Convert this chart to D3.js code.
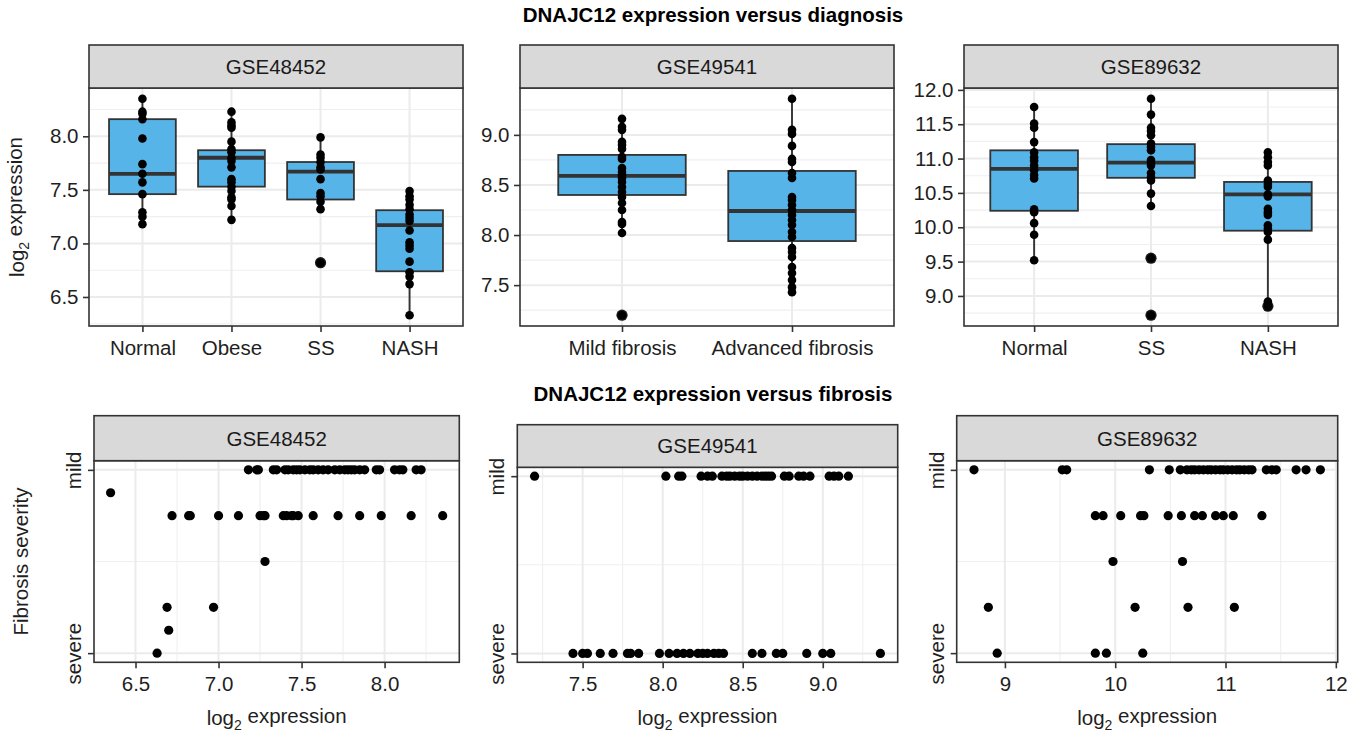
<!DOCTYPE html>
<html>
<head>
<meta charset="utf-8">
<script src="https://cdn.jsdelivr.net/npm/d3@7"></script>
<style>
  body { margin: 0; background: #fff; }
  svg text { font-family: "Liberation Sans", Arial, Helvetica, sans-serif; }
</style>
</head>
<body>
<div id="chart"></div>
<script>
// Data

var datasets = ["GSE48452", "GSE49541", "GSE89632"];

// top row: log2 expression per diagnosis group
var groups48452 = ["Normal", "Obese", "SS", "NASH"];
var expr48452 = [
  [8.35, 8.23, 8.21, 8.16, 7.98, 7.74, 7.65, 7.57, 7.46, 7.29, 7.25, 7.18],
  [8.23, 8.13, 8.10, 8.08, 7.95, 7.88, 7.85, 7.80, 7.77, 7.71, 7.60, 7.57, 7.53, 7.49, 7.43, 7.41, 7.35, 7.22],
  [7.99, 7.83, 7.80, 7.76, 7.71, 7.69, 7.60, 7.47, 7.44, 7.39, 7.32, 6.82],
  [7.49, 7.44, 7.41, 7.36, 7.32, 7.27, 7.24, 7.21, 7.12, 7.01, 6.98, 6.95, 6.83, 6.73, 6.69, 6.62, 6.33]
];
// [lower whisker, q1, median, q3, upper whisker]
var box48452 = [
  [7.18, 7.46, 7.65, 8.16, 8.35],
  [7.22, 7.53, 7.80, 7.87, 8.23],
  [7.32, 7.41, 7.67, 7.76, 7.99],
  [6.33, 6.74, 7.17, 7.31, 7.49]
];
var outliers48452 = [[], [], [6.82], []];

var groups49541 = ["Mild fibrosis", "Advanced fibrosis"];
var expr49541 = [
  [9.16, 9.08, 9.05, 8.93, 8.90, 8.86, 8.78, 8.76, 8.67, 8.63, 8.60, 8.57, 8.53, 8.48, 8.43, 8.38, 8.32, 8.25, 8.13, 8.11, 8.02, 7.20],
  [9.36, 9.05, 9.01, 8.89, 8.76, 8.73, 8.62, 8.57, 8.38, 8.35, 8.30, 8.25, 8.20, 8.15, 8.10, 8.03, 7.98, 7.87, 7.83, 7.78, 7.68, 7.62, 7.55, 7.48, 7.43]
];
var box49541 = [
  [8.02, 8.40, 8.59, 8.80, 9.16],
  [7.43, 7.94, 8.24, 8.64, 9.36]
];
var outliers49541 = [[7.20], []];

var groups89632 = ["Normal", "SS", "NASH"];
var expr89632 = [
  [11.75, 11.51, 11.45, 11.24, 11.09, 11.02, 10.97, 10.90, 10.83, 10.76, 10.71, 10.26, 10.22, 10.06, 9.89, 9.52],
  [11.87, 11.64, 11.45, 11.40, 11.34, 11.22, 11.17, 11.12, 10.98, 10.94, 10.90, 10.79, 10.73, 10.68, 10.49, 10.31, 9.55, 8.72],
  [11.09, 11.02, 10.95, 10.90, 10.68, 10.63, 10.59, 10.48, 10.45, 10.27, 10.22, 10.18, 10.03, 9.98, 9.93, 9.82, 8.92, 8.85]
];
var box89632 = [
  [9.52, 10.24, 10.85, 11.12, 11.75],
  [10.31, 10.72, 10.94, 11.21, 11.87],
  [8.92, 9.95, 10.48, 10.66, 11.09]
];
var outliers89632 = [[], [9.55, 8.72], [8.85]];

// bottom row: fibrosis stage (0 = mild ... max = severe) and expression
var sevLabels = ["mild", "severe"];

var stages48452 = [0, 0.5, 1, 2, 3, 3.5, 4];
var fib48452 = [
  [7.18, 7.23, 7.24, 7.33, 7.35, 7.40, 7.42, 7.45, 7.47, 7.49, 7.52, 7.55, 7.57, 7.60, 7.63, 7.66, 7.70, 7.73, 7.76, 7.78, 7.80, 7.82, 7.85, 7.88, 7.95, 7.97, 8.06, 8.09, 8.11, 8.19, 8.22],
  [6.35],
  [6.72, 6.82, 6.83, 7.00, 7.12, 7.25, 7.27, 7.28, 7.39, 7.41, 7.44, 7.45, 7.48, 7.57, 7.72, 7.85, 7.98, 8.16, 8.35],
  [7.28],
  [6.69, 6.97],
  [6.70],
  [6.63]
];

var stages49541 = [0, 1];
var fib49541 = [
  [7.20, 8.02, 8.10, 8.12, 8.24, 8.28, 8.31, 8.37, 8.40, 8.42, 8.45, 8.48, 8.50, 8.53, 8.56, 8.59, 8.62, 8.64, 8.66, 8.68, 8.76, 8.79, 8.85, 8.88, 8.92, 9.04, 9.07, 9.10, 9.16],
  [7.44, 7.50, 7.53, 7.61, 7.69, 7.78, 7.80, 7.85, 7.98, 8.04, 8.09, 8.13, 8.17, 8.22, 8.25, 8.28, 8.32, 8.35, 8.38, 8.56, 8.62, 8.71, 8.75, 8.90, 9.00, 9.05, 9.36]
];

var stages89632 = [0, 1, 2, 3, 4];
var fib89632 = [
  [8.72, 9.52, 9.56, 10.31, 10.49, 10.59, 10.65, 10.69, 10.72, 10.76, 10.80, 10.84, 10.87, 10.91, 10.95, 10.98, 11.02, 11.06, 11.10, 11.13, 11.17, 11.21, 11.24, 11.37, 11.42, 11.46, 11.64, 11.73, 11.86],
  [9.82, 9.89, 10.05, 10.23, 10.26, 10.48, 10.60, 10.72, 10.79, 10.91, 10.98, 11.07, 11.33],
  [9.98, 10.61],
  [8.85, 10.18, 10.66, 11.08],
  [8.93, 9.82, 9.92, 10.25]
];

// tick values
var ticks48452 = [6.5, 7.0, 7.5, 8.0];
var ticks49541 = [7.5, 8.0, 8.5, 9.0];
var ticks89632y = [9.0, 9.5, 10.0, 10.5, 11.0, 11.5, 12.0];
var ticks89632x = [9, 10, 11, 12];

// Setup

var width = 1365;
var height = 735;
var fontSize = 20.5;
var textCol = "#1f1f1f";
var lineCol = "#333";

var svg = d3
    .select("#chart")
    .append("svg")
    .attr("width", width)
    .attr("height", height);

svg.append("rect").attr("width", width).attr("height", height).attr("fill", "#fff");

// ggplot style 5% expansion
function expand(vals) {
    var ext = d3.extent(vals);
    var pad = (ext[1] - ext[0]) * 0.05;
    return [ext[0] - pad, ext[1] + pad];
}

// minor breaks halfway between majors, inside the domain
function minorBreaks(ticks, domain) {
    var step = ticks[1] - ticks[0];
    var out = [];
    for (var v = ticks[0] - step / 2; v <= domain[1]; v += step) {
        if (v >= domain[0]) out.push(v);
    }
    return out;
}

function styleAxis(g) {
    g.attr("font-size", null).attr("font-family", null);
    g.select(".domain").remove();
    g.selectAll(".tick line").attr("stroke", lineCol).attr("stroke-width", 1.6);
    g.selectAll(".tick text").attr("fill", textCol).style("font-size", fontSize + "px");
}

function strip(x0, x1, top, bottom, label) {
    svg.append("rect")
        .attr("x", x0).attr("y", top)
        .attr("width", x1 - x0).attr("height", bottom - top)
        .attr("fill", "#D9D9D9")
        .attr("stroke", lineCol)
        .attr("stroke-width", 1.6);
    svg.append("text")
        .attr("x", (x0 + x1) / 2)
        .attr("y", (top + bottom) / 2 + fontSize * 0.36)
        .attr("text-anchor", "middle")
        .attr("fill", "#1a1a1a")
        .style("font-size", fontSize + "px")
        .text(label);
}

function logTitle(sel) {
    sel.append("tspan").text("log");
    sel.append("tspan").attr("dy", "0.35em").style("font-size", "14px").text("2");
    sel.append("tspan").attr("dy", "-0.35em").text(" expression");
}

// Top row: boxplots
function boxPanel(p, name, groups, expr, box, outl, yTicks) {
    var all = d3.merge(expr).concat(d3.merge(outl));
    var y = d3.scaleLinear().domain(expand(all)).range([p.y1, p.y0]);
    var x = d3.scalePoint().domain(groups).range([p.x0, p.x1]).padding(0.6);
    var bw = x.step() * 0.75;
    var g = svg.append("g");

    // grid
    g.selectAll(".minor")
        .data(minorBreaks(yTicks, y.domain()))
        .enter().append("line")
        .attr("x1", p.x0).attr("x2", p.x1)
        .attr("y1", d => y(d)).attr("y2", d => y(d))
        .attr("stroke", "#EFEFEF").attr("stroke-width", 1.1);
    g.selectAll(".majorY")
        .data(yTicks)
        .enter().append("line")
        .attr("x1", p.x0).attr("x2", p.x1)
        .attr("y1", d => y(d)).attr("y2", d => y(d))
        .attr("stroke", "#EBEBEB").attr("stroke-width", 2);
    g.selectAll(".majorX")
        .data(groups)
        .enter().append("line")
        .attr("x1", d => x(d)).attr("x2", d => x(d))
        .attr("y1", p.y0).attr("y2", p.y1)
        .attr("stroke", "#EBEBEB").attr("stroke-width", 2);

    groups.forEach(function(grp, i) {
        var cx = x(grp);
        var b = box[i];
        // whiskers
        g.append("line").attr("x1", cx).attr("x2", cx)
            .attr("y1", y(b[0])).attr("y2", y(b[1]))
            .attr("stroke", lineCol).attr("stroke-width", 1.9);
        g.append("line").attr("x1", cx).attr("x2", cx)
            .attr("y1", y(b[3])).attr("y2", y(b[4]))
            .attr("stroke", lineCol).attr("stroke-width", 1.9);
        // box
        g.append("rect")
            .attr("x", cx - bw / 2).attr("y", y(b[3]))
            .attr("width", bw).attr("height", y(b[1]) - y(b[3]))
            .attr("fill", "#56B4E9")
            .attr("stroke", lineCol).attr("stroke-width", 1.8);
        g.append("line")
            .attr("x1", cx - bw / 2).attr("x2", cx + bw / 2)
            .attr("y1", y(b[2])).attr("y2", y(b[2]))
            .attr("stroke", lineCol).attr("stroke-width", 3.8);
        // outliers
        g.selectAll(".out" + i)
            .data(outl[i])
            .enter().append("circle")
            .attr("cx", cx).attr("cy", d => y(d))
            .attr("r", 5.6).attr("fill", "#1a1a1a");
        // points
        g.selectAll(".pt" + i)
            .data(expr[i])
            .enter().append("circle")
            .attr("cx", cx).attr("cy", d => y(d))
            .attr("r", 4.3).attr("fill", "#000");
    });

    // border
    g.append("rect")
        .attr("x", p.x0).attr("y", p.y0)
        .attr("width", p.x1 - p.x0).attr("height", p.y1 - p.y0)
        .attr("fill", "none").attr("stroke", lineCol).attr("stroke-width", 1.6);

    strip(p.x0, p.x1, p.stripTop, p.y0, name);

    svg.append("g")
        .attr("transform", "translate(" + p.x0 + ",0)")
        .call(d3.axisLeft(y).tickValues(yTicks).tickFormat(d3.format(".1f")).tickSize(6).tickPadding(4.5))
        .call(styleAxis);
    svg.append("g")
        .attr("transform", "translate(0," + p.y1 + ")")
        .call(d3.axisBottom(x).tickSize(6).tickPadding(8.5))
        .call(styleAxis);
}

// Bottom row: expression vs fibrosis stage
function scatterPanel(p, name, stages, fib, xTicks, fmt) {
    var x = d3.scaleLinear().domain(expand(d3.merge(fib))).range([p.x0, p.x1]);
    var smax = d3.max(stages);
    var y = d3.scaleLinear().domain([-0.05 * smax, 1.05 * smax]).range([p.y0, p.y1]);
    var g = svg.append("g");

    g.selectAll(".minorX")
        .data(minorBreaks(xTicks, x.domain()))
        .enter().append("line")
        .attr("x1", d => x(d)).attr("x2", d => x(d))
        .attr("y1", p.y0).attr("y2", p.y1)
        .attr("stroke", "#EFEFEF").attr("stroke-width", 1.1);
    g.append("line")
        .attr("x1", p.x0).attr("x2", p.x1)
        .attr("y1", y(smax / 2)).attr("y2", y(smax / 2))
        .attr("stroke", "#EFEFEF").attr("stroke-width", 1.1);
    g.selectAll(".majorX")
        .data(xTicks)
        .enter().append("line")
        .attr("x1", d => x(d)).attr("x2", d => x(d))
        .attr("y1", p.y0).attr("y2", p.y1)
        .attr("stroke", "#EBEBEB").attr("stroke-width", 2);
    g.selectAll(".majorY")
        .data([0, smax])
        .enter().append("line")
        .attr("x1", p.x0).attr("x2", p.x1)
        .attr("y1", d => y(d)).attr("y2", d => y(d))
        .attr("stroke", "#EBEBEB").attr("stroke-width", 2);

    stages.forEach(function(s, i) {
        g.selectAll(".pt" + i)
            .data(fib[i])
            .enter().append("circle")
            .attr("cx", d => x(d)).attr("cy", y(s))
            .attr("r", 4.6).attr("fill", "#000");
    });

    g.append("rect")
        .attr("x", p.x0).attr("y", p.y0)
        .attr("width", p.x1 - p.x0).attr("height", p.y1 - p.y0)
        .attr("fill", "none").attr("stroke", lineCol).attr("stroke-width", 1.6);

    strip(p.x0, p.x1, p.stripTop, p.y0, name);

    svg.append("g")
        .attr("transform", "translate(0," + p.y1 + ")")
        .call(d3.axisBottom(x).tickValues(xTicks).tickFormat(d3.format(fmt)).tickSize(6).tickPadding(8.5))
        .call(styleAxis);

    var ya = svg.append("g")
        .attr("transform", "translate(" + p.x0 + ",0)")
        .call(d3.axisLeft(y).tickValues([0, smax]).tickFormat((d, i) => sevLabels[i]).tickSize(6))
        .call(styleAxis);
    ya.selectAll(".tick text")
        .attr("x", null).attr("dy", null)
        .attr("text-anchor", "middle")
        .attr("transform", "translate(-13,0) rotate(-90)");

    svg.append("text")
        .attr("x", (p.x0 + p.x1) / 2).attr("y", 725)
        .attr("text-anchor", "middle")
        .attr("fill", textCol)
        .style("font-size", fontSize + "px")
        .call(logTitle);
}

// Panels layout
var topPanels = [
    {x0: 89, x1: 463, stripTop: 45, y0: 88, y1: 326},
    {x0: 520, x1: 894, stripTop: 45, y0: 88, y1: 326},
    {x0: 964, x1: 1338, stripTop: 45, y0: 88, y1: 326}
];
var botPanels = [
    {x0: 94, x1: 459.3, stripTop: 415.7, y0: 460.7, y1: 662.3},
    {x0: 517.3, x1: 897.7, stripTop: 424.7, y0: 467.3, y1: 662.3},
    {x0: 956.7, x1: 1337.7, stripTop: 415.7, y0: 460.7, y1: 662.3}
];

boxPanel(topPanels[0], datasets[0], groups48452, expr48452, box48452, outliers48452, ticks48452);
boxPanel(topPanels[1], datasets[1], groups49541, expr49541, box49541, outliers49541, ticks49541);
boxPanel(topPanels[2], datasets[2], groups89632, expr89632, box89632, outliers89632, ticks89632y);

scatterPanel(botPanels[0], datasets[0], stages48452, fib48452, ticks48452, ".1f");
scatterPanel(botPanels[1], datasets[1], stages49541, fib49541, ticks49541, ".1f");
scatterPanel(botPanels[2], datasets[2], stages89632, fib89632, ticks89632x, "d");

// Titles
svg.append("text")
    .attr("x", 713).attr("y", 22)
    .attr("text-anchor", "middle")
    .attr("font-weight", "bold")
    .attr("fill", "#000")
    .style("font-size", fontSize + "px")
    .text("DNAJC12 expression versus diagnosis");

svg.append("text")
    .attr("x", 713).attr("y", 401)
    .attr("text-anchor", "middle")
    .attr("font-weight", "bold")
    .attr("fill", "#000")
    .style("font-size", fontSize + "px")
    .text("DNAJC12 expression versus fibrosis");

// y axis titles
svg.append("text")
    .attr("transform", "translate(24,207) rotate(-90)")
    .attr("text-anchor", "middle")
    .attr("fill", textCol)
    .style("font-size", fontSize + "px")
    .call(logTitle);

svg.append("text")
    .attr("transform", "translate(28,561.5) rotate(-90)")
    .attr("text-anchor", "middle")
    .attr("fill", textCol)
    .style("font-size", fontSize + "px")
    .text("Fibrosis severity");
</script>
</body>
</html>
